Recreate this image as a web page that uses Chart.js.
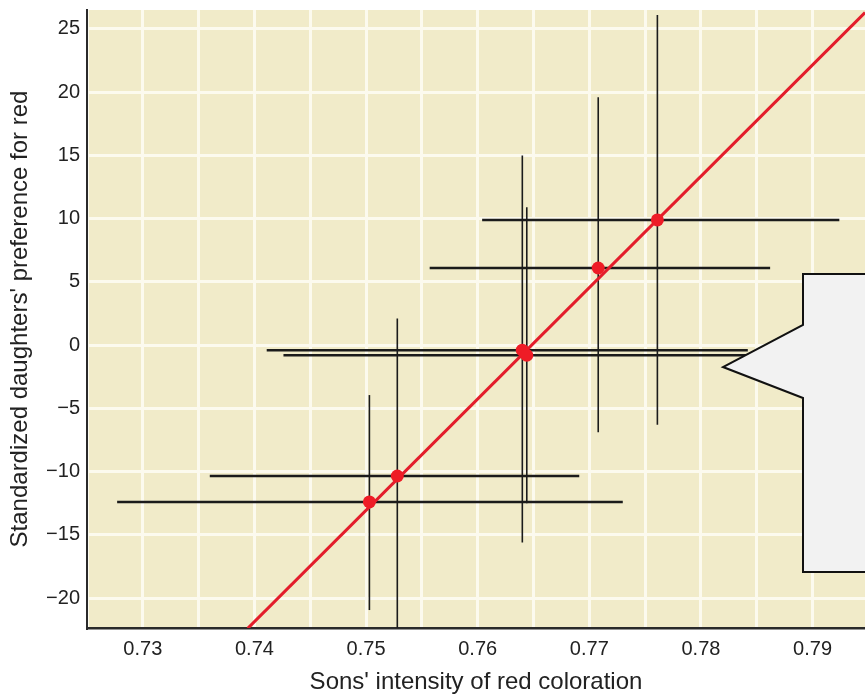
<!DOCTYPE html>
<html>
<head>
<meta charset="utf-8">
<script src="https://cdn.jsdelivr.net/npm/chart.js@4/dist/chart.umd.min.js"></script>
<style>
  html, body { margin: 0; padding: 0; background: #fff; }
  #wrap { width: 865px; height: 698px; }
</style>
</head>
<body>
<div id="wrap"><canvas id="redChart" width="865" height="698"></canvas></div>
<script>
// values (one entry per family mean)
var sonsRed    = [0.7503, 0.7528, 0.7640, 0.7644, 0.7708, 0.7761];
var daughters  = [-12.4, -10.35, -0.4, -0.8, 6.1, 9.9];
var sonsLow    = [0.7277, 0.7360, 0.7411, 0.7426, 0.7557, 0.7604];
var sonsHigh   = [0.7730, 0.7691, 0.7842, 0.7846, 0.7862, 0.7924];
var prefLow    = [-20.95, -22.8, -15.6, -12.5, -6.9, -6.3];
var prefHigh   = [-3.95, 2.1, 15.0, 10.9, 19.6, 26.1];

// regression line, two ends
var fitX = [0.7394, 0.7947];
var fitY = [-22.4, 26.3];

// axis ranges / ticks (x grid every 0.005, labelled every 0.01)
var xMin = 0.725, xMax = 0.7947;
var yMin = -22.37, yMax = 26.5;
var xGrid = [0.725, 0.73, 0.735, 0.74, 0.745, 0.75, 0.755, 0.76, 0.765, 0.77, 0.775, 0.78, 0.785, 0.79];
var xLabels = ['', '0.73', '', '0.74', '', '0.75', '', '0.76', '', '0.77', '', '0.78', '', '0.79'];
var yGrid = [-20, -15, -10, -5, 0, 5, 10, 15, 20, 25];
var yLabels = ['\u221220', '\u221215', '\u221210', '\u22125', '0', '5', '10', '15', '20', '25'];

var inkColor = '#1b1b1b';
var redColor = '#e31d2b';
var fontFam = 'Liberation Sans, Arial, sans-serif';

var datasets = [];

// horizontal error bars
for (var i = 0; i < sonsRed.length; i++) {
  datasets.push({
    data: [{x: sonsLow[i], y: daughters[i]}, {x: sonsHigh[i], y: daughters[i]}],
    showLine: true, borderColor: inkColor, borderWidth: 2.5,
    pointRadius: 0, pointHoverRadius: 0, order: 3
  });
}
// vertical error bars
for (var i = 0; i < sonsRed.length; i++) {
  datasets.push({
    data: [{x: sonsRed[i], y: prefLow[i]}, {x: sonsRed[i], y: prefHigh[i]}],
    showLine: true, borderColor: inkColor, borderWidth: 1.6,
    pointRadius: 0, pointHoverRadius: 0, order: 3
  });
}
// fitted line
datasets.push({
  data: fitX.map(function(x, k) { return {x: x, y: fitY[k]}; }),
  showLine: true, borderColor: redColor, borderWidth: 3,
  pointRadius: 0, order: 2
});
// means
datasets.push({
  data: sonsRed.map(function(x, k) { return {x: x, y: daughters[k]}; }),
  showLine: false, pointRadius: 6.5, pointBorderWidth: 0,
  pointBackgroundColor: '#ee1c26', order: 1
});

// plot background + the callout box on the right
var paperPlugin = {
  id: 'paper',
  beforeDraw: function(chart) {
    var a = chart.chartArea, c = chart.ctx;
    c.save();
    c.fillStyle = '#f1ebc9';
    c.fillRect(a.left, a.top, a.right - a.left, a.bottom - a.top);
    c.restore();
  },
  afterDraw: function(chart) {
    var c = chart.ctx;
    c.save();
    c.beginPath();
    c.moveTo(803, 274);
    c.lineTo(880, 274);
    c.lineTo(880, 572);
    c.lineTo(803, 572);
    c.lineTo(803, 398);
    c.lineTo(723, 367);
    c.lineTo(803, 325);
    c.closePath();
    c.fillStyle = '#f2f2f2';
    c.fill();
    c.lineWidth = 2;
    c.strokeStyle = '#111';
    c.stroke();
    c.restore();
  }
};

function setTicks(values) {
  return function(axis) {
    axis.ticks = values.map(function(v) { return {value: v}; });
  };
}

var ctx = document.getElementById('redChart').getContext('2d');
var chart = new Chart(ctx, {
  type: 'scatter',
  data: { datasets: datasets },
  options: {
    responsive: false,
    animation: false,
    layout: { autoPadding: false, padding: { top: 10, left: 0, right: 0, bottom: 0 } },
    plugins: { legend: { display: false }, tooltip: { enabled: false } },
    scales: {
      x: {
        type: 'linear', min: xMin, max: xMax,
        afterBuildTicks: setTicks(xGrid),
        afterFit: function(axis) { axis.height = 70; axis.paddingLeft = 0; axis.paddingRight = 0; },
        ticks: {
          autoSkip: false, maxRotation: 0, padding: 9,
          color: '#222', font: { family: fontFam, size: 20 },
          callback: function(v, idx) { return xLabels[idx]; }
        },
        grid: { drawTicks: false, lineWidth: 3, color: '#fcfaee' },
        border: { display: true, color: '#2a2a2a', width: 2.5 },
        title: {
          display: true, text: "Sons' intensity of red coloration", color: '#222',
          font: { family: fontFam, size: 24 },
          padding: { top: 0, bottom: 1 }
        }
      },
      y: {
        type: 'linear', min: yMin, max: yMax,
        afterBuildTicks: setTicks(yGrid),
        afterFit: function(axis) { axis.width = 87; axis.paddingTop = 0; axis.paddingBottom = 0; },
        ticks: {
          autoSkip: false, padding: 7, color: '#222',
          font: { family: fontFam, size: 20 },
          callback: function(v, idx) { return yLabels[idx]; }
        },
        grid: { drawTicks: false, lineWidth: 3, color: '#fcfaee' },
        border: { display: true, color: '#2a2a2a', width: 2 },
        title: {
          display: true, text: "Standardized daughters' preference for red", color: '#222',
          font: { family: fontFam, size: 24 },
          padding: { top: 6, bottom: 0 }
        }
      }
    }
  },
  plugins: [paperPlugin]
});
</script>
</body>
</html>
